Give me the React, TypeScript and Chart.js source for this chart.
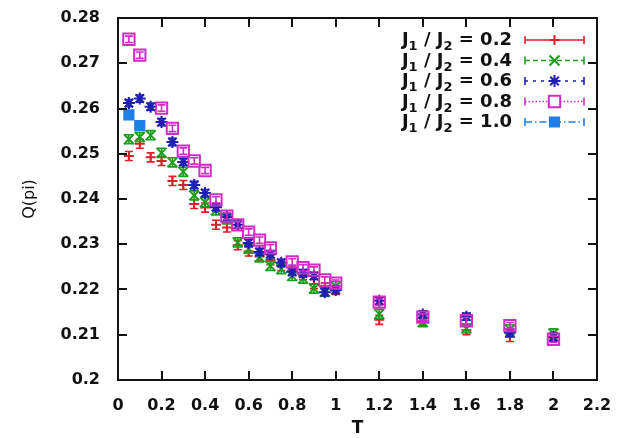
import React, { useEffect, useRef } from "react";
import { Chart, registerables } from "chart.js";
import { drawPoint } from "chart.js/helpers";

Chart.register(...registerables);

// ---- data ----
const T_VALUES = [0.05, 0.1, 0.15, 0.2, 0.25, 0.3, 0.35, 0.4, 0.45, 0.5, 0.55, 0.6, 0.65, 0.7, 0.75, 0.8, 0.85, 0.9, 0.95, 1.0, 1.2, 1.4, 1.6, 1.8, 2.0];

const RATIO_LABELS = ["0.2", "0.4", "0.6", "0.8", "1.0"];

const Q_R02 = [0.2495, 0.2522, 0.2492, 0.2484, 0.244, 0.2431, 0.2389, 0.2381, 0.2343, 0.2337, 0.2298, 0.2284, 0.2273, 0.2265, 0.2252, 0.2242, 0.2232, 0.2212, 0.2205, 0.2199, 0.2133, 0.213, 0.211, 0.2095, 0.2095];
const Q_R04 = [0.2532, 0.2537, 0.2541, 0.2502, 0.2481, 0.246, 0.2408, 0.2393, 0.2375, 0.2355, 0.2304, 0.229, 0.2271, 0.2252, 0.2245, 0.223, 0.2224, 0.2202, 0.2195, 0.2207, 0.2146, 0.2128, 0.2114, 0.2112, 0.2103];
const Q_R06 = [0.2612, 0.2622, 0.2604, 0.257, 0.2526, 0.2482, 0.2431, 0.2413, 0.2382, 0.236, 0.2343, 0.2303, 0.2283, 0.2278, 0.2259, 0.2239, 0.2236, 0.223, 0.2194, 0.2199, 0.2175, 0.2145, 0.214, 0.2105, 0.2095];
const Q_R08 = [0.2753, 0.2718, null, 0.2601, 0.2556, 0.2506, 0.2484, 0.2463, 0.2398, 0.2362, 0.2343, 0.2327, 0.2309, 0.2292, null, 0.2261, 0.2248, 0.2243, 0.2221, 0.2214, 0.2172, 0.2139, 0.2131, 0.212, 0.209];
const Q_R10 = [0.2586, 0.2562, null, null, null, null, null, null, null, null, null, null, null, null, null, null, null, null, null, null, null, null, null, null, null];

const ERRORS = [0.001, 0.001, 0.0008, 0.0007, 0.0006];

const X_MIN = 0, X_MAX = 2.2, X_STEP = 0.2;
const Y_MIN = 0.2, Y_MAX = 0.28, Y_STEP = 0.01;

// ---- styles ----
const SERIES = [Q_R02, Q_R04, Q_R06, Q_R08, Q_R10];
const COLORS = ["#dd1f2b", "#1e9e1e", "#1f1fb4", "#d12cc6", "#1f7fe6"];
const POINT_STYLES = ["cross", "crossRot", "star", "rect", "rect"];
const POINT_RADII = [5, 7, 6, 8, 6.5];
const FILLS = [false, false, false, false, true];
const DASHES: number[][] = [[], [5, 3], [3, 5], [1.5, 2], [7, 3, 1.5, 3]];

const FONT = '"DejaVu Sans", sans-serif';

const gnuplotPlugin = {
  id: "gnuplotLook",
  afterDatasetDraw(chart: any, args: any) {
    const ctx = chart.ctx;
    const i = args.index;
    const meta = args.meta;
    const ys = chart.scales.y;
    const err = ERRORS[i];
    ctx.save();
    ctx.strokeStyle = COLORS[i];
    ctx.lineWidth = 1.6;
    meta.data.forEach((el: any, k: number) => {
      const raw = chart.data.datasets[i].data[k];
      const yTop = ys.getPixelForValue(raw.y + err);
      const yBot = ys.getPixelForValue(raw.y - err);
      ctx.beginPath();
      ctx.moveTo(el.x, yTop);
      ctx.lineTo(el.x, yBot);
      ctx.moveTo(el.x - 4, yTop);
      ctx.lineTo(el.x + 4, yTop);
      ctx.moveTo(el.x - 4, yBot);
      ctx.lineTo(el.x + 4, yBot);
      ctx.stroke();
    });
    ctx.restore();
  },
  afterDraw(chart: any) {
    const ctx = chart.ctx;
    const { left, right, top, bottom } = chart.chartArea;
    const xs = chart.scales.x;
    const ys = chart.scales.y;
    const TL = 9;
    ctx.save();
    ctx.strokeStyle = "#111";
    ctx.lineWidth = 2;
    ctx.beginPath();
    xs.ticks.forEach((t: any) => {
      const px = Math.round(xs.getPixelForValue(t.value));
      if (px <= left + 1 || px >= right - 1) return;
      ctx.moveTo(px, bottom);
      ctx.lineTo(px, bottom - TL);
      ctx.moveTo(px, top);
      ctx.lineTo(px, top + TL);
    });
    ys.ticks.forEach((t: any) => {
      const py = Math.round(ys.getPixelForValue(t.value));
      if (py <= top + 1 || py >= bottom - 1) return;
      ctx.moveTo(left, py);
      ctx.lineTo(left + TL, py);
      ctx.moveTo(right, py);
      ctx.lineTo(right - TL, py);
    });
    ctx.stroke();
    ctx.strokeRect(left, top, right - left, bottom - top);

    // legend
    const textRight = right - 85;
    const x1 = right - 72;
    const x2 = right - 13;
    chart.data.datasets.forEach((ds: any, i: number) => {
      const base = top + 27 + i * 20.5;
      const segs = [
        { t: "J", sub: false },
        { t: "1", sub: true },
        { t: " / J", sub: false },
        { t: "2", sub: true },
        { t: " = " + RATIO_LABELS[i], sub: false },
      ];
      const mainFont = "bold 18px " + FONT;
      const subFont = "bold 13px " + FONT;
      let total = 0;
      segs.forEach((s) => {
        ctx.font = s.sub ? subFont : mainFont;
        total += ctx.measureText(s.t).width;
      });
      let x = textRight - total;
      ctx.fillStyle = "#111";
      ctx.textAlign = "left";
      ctx.textBaseline = "alphabetic";
      segs.forEach((s) => {
        ctx.font = s.sub ? subFont : mainFont;
        ctx.fillText(s.t, x, s.sub ? base + 5 : base);
        x += ctx.measureText(s.t).width;
      });
      const ly = base - 5;
      ctx.strokeStyle = COLORS[i];
      ctx.lineWidth = 1.6;
      ctx.setLineDash(DASHES[i]);
      ctx.beginPath();
      ctx.moveTo(x1, ly);
      ctx.lineTo(x2, ly);
      ctx.stroke();
      ctx.setLineDash([]);
      ctx.beginPath();
      ctx.moveTo(x1, ly - 4);
      ctx.lineTo(x1, ly + 4);
      ctx.moveTo(x2, ly - 4);
      ctx.lineTo(x2, ly + 4);
      ctx.stroke();
      ctx.lineWidth = 2;
      ctx.fillStyle = FILLS[i] ? COLORS[i] : "#ffffff";
      drawPoint(
        ctx,
        {
          pointStyle: POINT_STYLES[i],
          radius: POINT_RADII[i],
          rotation: 0,
          borderWidth: 2,
        } as any,
        (x1 + x2) / 2,
        ly
      );
      if (FILLS[i]) ctx.fill();
    });
    ctx.restore();
  },
};

export default function App() {
  const ref = useRef<HTMLCanvasElement | null>(null);

  useEffect(() => {
    document.body.style.margin = "0";
    const canvas = ref.current;
    if (!canvas) return;

    const datasets = SERIES.map((vals, i) => ({
      label: "J1 / J2 = " + RATIO_LABELS[i],
      data: T_VALUES.map((t, k) => ({ x: t, y: vals[k] })).filter((p) => p.y !== null),
      showLine: false,
      order: SERIES.length - i,
      pointStyle: POINT_STYLES[i],
      pointRadius: POINT_RADII[i],
      pointBorderWidth: 2,
      borderColor: COLORS[i],
      backgroundColor: FILLS[i] ? COLORS[i] : "rgba(0,0,0,0)",
      pointBackgroundColor: FILLS[i] ? COLORS[i] : "rgba(0,0,0,0)",
      pointBorderColor: COLORS[i],
    }));

    const chart = new Chart(canvas, {
      type: "scatter",
      data: { datasets } as any,
      options: {
        animation: false,
        responsive: false,
        devicePixelRatio: 1,
        layout: { autoPadding: false, padding: { left: 0, right: 27, top: 18, bottom: 0 } },
        plugins: {
          legend: { display: false },
          tooltip: { enabled: false },
        },
        scales: {
          x: {
            type: "linear",
            min: X_MIN,
            max: X_MAX,
            afterFit: (s: any) => {
              s.height = 58;
              s.paddingLeft = 0;
              s.paddingRight = 0;
            },
            ticks: {
              stepSize: X_STEP,
              padding: 16,
              color: "#111",
              font: { family: FONT, size: 16, weight: "bold" },
              callback: (v: any) => String(parseFloat(Number(v).toFixed(1))),
              maxRotation: 0,
              autoSkip: false,
            },
            grid: { display: false, drawTicks: false },
            border: { display: false },
            title: {
              display: true,
              text: "T",
              color: "#111",
              font: { family: FONT, size: 17, weight: "bold" },
              padding: { top: 0, bottom: -1 },
            },
          },
          y: {
            type: "linear",
            min: Y_MIN,
            max: Y_MAX,
            afterFit: (s: any) => {
              s.width = 118;
              s.paddingTop = 0;
              s.paddingBottom = 0;
            },
            ticks: {
              stepSize: Y_STEP,
              padding: 18,
              color: "#111",
              font: { family: FONT, size: 16, weight: "bold" },
              callback: (v: any) => String(parseFloat(Number(v).toFixed(2))),
              autoSkip: false,
            },
            grid: { display: false, drawTicks: false },
            border: { display: false },
            title: {
              display: true,
              text: "Q(pi)",
              color: "#111",
              font: { family: FONT, size: 16, weight: "normal" },
              padding: { top: 20, bottom: 0 },
            },
          },
        },
      } as any,
      plugins: [gnuplotPlugin],
    });

    return () => chart.destroy();
  }, []);

  return (
    <div style={{ width: 624, height: 438, background: "#fff" }}>
      <canvas ref={ref} width={624} height={438} style={{ display: "block" }} />
    </div>
  );
}
